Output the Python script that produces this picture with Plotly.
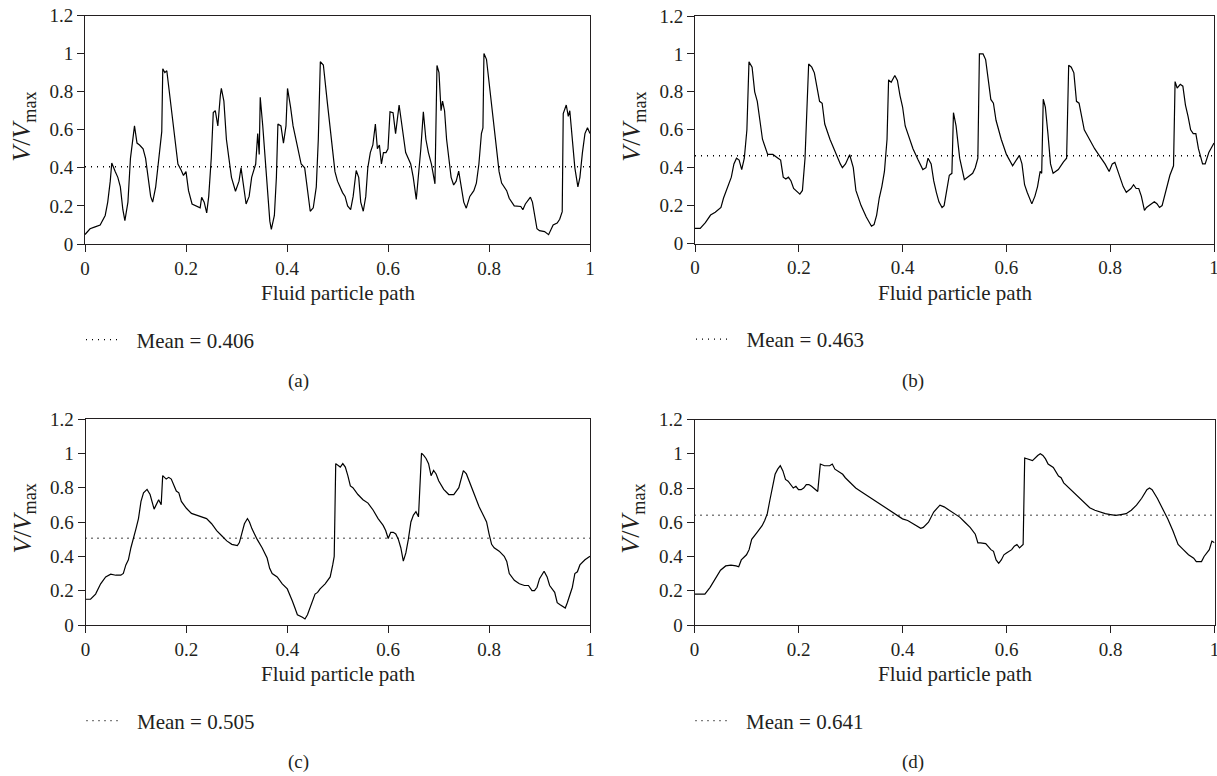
import plotly.graph_objects as go

# ---------------- data ----------------
xa = [0, 0.01, 0.02, 0.03, 0.04, 0.045, 0.05, 0.053, 0.06, 0.065, 0.07, 0.075, 0.079, 0.085, 0.09, 0.095, 0.098,
      0.103, 0.108, 0.115, 0.12, 0.125, 0.13, 0.134, 0.14, 0.145, 0.15, 0.152, 0.154, 0.158, 0.162, 0.167, 0.172,
      0.178, 0.184, 0.19, 0.195, 0.2, 0.205, 0.212, 0.22, 0.228, 0.231, 0.236, 0.241, 0.245, 0.25, 0.254, 0.258,
      0.263, 0.268, 0.27, 0.275, 0.28, 0.285, 0.29, 0.298, 0.305, 0.309, 0.315, 0.319, 0.325, 0.33, 0.338, 0.342,
      0.345, 0.347, 0.352, 0.357, 0.362, 0.366, 0.369, 0.375, 0.379, 0.382, 0.388, 0.393, 0.398, 0.401, 0.407,
      0.412, 0.42, 0.428, 0.435, 0.44, 0.446, 0.452, 0.458, 0.462, 0.466, 0.472, 0.477, 0.48, 0.485, 0.49, 0.495,
      0.5, 0.51, 0.515, 0.52, 0.526, 0.531, 0.537, 0.542, 0.546, 0.551, 0.556, 0.56, 0.565, 0.57, 0.575, 0.579,
      0.583, 0.587, 0.591, 0.596, 0.6, 0.604, 0.61, 0.615, 0.622, 0.628, 0.635, 0.645, 0.65, 0.656, 0.66, 0.665,
      0.67, 0.675, 0.68, 0.686, 0.693, 0.697, 0.701, 0.705, 0.708, 0.712, 0.716, 0.72, 0.725, 0.73, 0.735, 0.74,
      0.745, 0.75, 0.755, 0.762, 0.77, 0.775, 0.78, 0.785, 0.788, 0.79, 0.795, 0.8, 0.805, 0.81, 0.815, 0.82,
      0.825, 0.835, 0.84, 0.85, 0.863, 0.867, 0.872, 0.882, 0.886, 0.89, 0.895, 0.9, 0.91, 0.918, 0.922, 0.927,
      0.935, 0.94, 0.945, 0.947, 0.953, 0.957, 0.96, 0.965, 0.97, 0.976, 0.98, 0.985, 0.99, 0.995, 1.0]
ya = [0.05, 0.08, 0.09, 0.10, 0.15, 0.22, 0.33, 0.425, 0.38, 0.35, 0.30, 0.18, 0.123, 0.22, 0.45, 0.58, 0.62,
      0.53, 0.52, 0.50, 0.45, 0.35, 0.25, 0.22, 0.30, 0.42, 0.55, 0.59, 0.92, 0.90, 0.91, 0.80, 0.67,
      0.55, 0.42, 0.39, 0.36, 0.38, 0.28, 0.21, 0.20, 0.19, 0.245, 0.22, 0.163, 0.25, 0.45, 0.69, 0.70,
      0.62, 0.78, 0.817, 0.75, 0.55, 0.45, 0.35, 0.277, 0.33, 0.40, 0.30, 0.21, 0.25, 0.35, 0.42, 0.58,
      0.47, 0.77, 0.62, 0.45, 0.25, 0.12, 0.077, 0.15, 0.35, 0.63, 0.62, 0.53, 0.62, 0.817, 0.72,
      0.62, 0.52, 0.42, 0.40, 0.30, 0.172, 0.19, 0.30, 0.55, 0.957, 0.94, 0.80, 0.74, 0.62, 0.48, 0.38,
      0.33, 0.27, 0.25, 0.20, 0.18, 0.25, 0.386, 0.35, 0.22, 0.172, 0.25, 0.40, 0.48, 0.52, 0.63, 0.50,
      0.52, 0.42, 0.48, 0.48, 0.50, 0.694, 0.69, 0.58, 0.73, 0.60, 0.48, 0.42, 0.35, 0.234, 0.35, 0.50,
      0.694, 0.55, 0.48, 0.42, 0.316, 0.938, 0.90, 0.70, 0.75, 0.70, 0.55, 0.45, 0.35, 0.31, 0.33, 0.383,
      0.30, 0.22, 0.188, 0.25, 0.28, 0.32, 0.42, 0.58, 0.61, 1.00, 0.97, 0.85, 0.72, 0.60, 0.47, 0.38,
      0.32, 0.28, 0.24, 0.20, 0.197, 0.18, 0.21, 0.246, 0.22, 0.15, 0.08, 0.07, 0.065, 0.049, 0.07, 0.10,
      0.11, 0.13, 0.17, 0.685, 0.73, 0.67, 0.70, 0.55, 0.40, 0.30, 0.35, 0.48, 0.58, 0.61, 0.58]

xb = [0, 0.01, 0.02, 0.03, 0.039, 0.05, 0.055, 0.06, 0.07, 0.075, 0.08, 0.085, 0.09, 0.095, 0.1, 0.104, 0.11,
      0.115, 0.12, 0.125, 0.13, 0.14, 0.15, 0.16, 0.165, 0.17, 0.175, 0.18, 0.185, 0.19, 0.202, 0.207, 0.212,
      0.219, 0.225, 0.23, 0.24, 0.245, 0.25, 0.26, 0.27, 0.28, 0.284, 0.29, 0.298, 0.305, 0.31, 0.32, 0.33, 0.34,
      0.345, 0.35, 0.355, 0.36, 0.365, 0.37, 0.373, 0.378, 0.385, 0.39, 0.395, 0.4, 0.405, 0.41, 0.42, 0.43,
      0.439, 0.445, 0.449, 0.455, 0.46, 0.465, 0.47, 0.476, 0.48, 0.485, 0.49, 0.495, 0.498, 0.503, 0.51, 0.519,
      0.525, 0.53, 0.535, 0.54, 0.545, 0.548, 0.555, 0.56, 0.565, 0.57, 0.575, 0.58, 0.59, 0.6, 0.612, 0.62,
      0.625, 0.63, 0.635, 0.64, 0.645, 0.649, 0.655, 0.66, 0.665, 0.668, 0.671, 0.675, 0.68, 0.685, 0.69, 0.7,
      0.71, 0.716, 0.72, 0.725, 0.73, 0.735, 0.74, 0.745, 0.75, 0.76, 0.77, 0.78, 0.79, 0.798, 0.804, 0.809,
      0.815, 0.82, 0.825, 0.831, 0.84, 0.845, 0.85, 0.855, 0.86, 0.866, 0.87, 0.875, 0.885, 0.89, 0.895, 0.9,
      0.905, 0.91, 0.915, 0.922, 0.925, 0.929, 0.935, 0.94, 0.945, 0.95, 0.955, 0.96, 0.965, 0.97, 0.978, 0.983,
      0.99, 1.0]
yb = [0.08, 0.08, 0.11, 0.15, 0.165, 0.19, 0.24, 0.28, 0.35, 0.42, 0.45, 0.44, 0.39, 0.45, 0.60, 0.958, 0.93,
      0.80, 0.75, 0.65, 0.55, 0.47, 0.47, 0.45, 0.44, 0.35, 0.34, 0.35, 0.33, 0.29, 0.26, 0.28, 0.45,
      0.947, 0.93, 0.90, 0.75, 0.74, 0.63, 0.55, 0.48, 0.42, 0.40, 0.42, 0.468, 0.40, 0.28, 0.20, 0.14, 0.091,
      0.10, 0.15, 0.24, 0.30, 0.38, 0.55, 0.863, 0.85, 0.886, 0.86, 0.78, 0.72, 0.62, 0.58, 0.50, 0.44,
      0.39, 0.40, 0.45, 0.42, 0.33, 0.27, 0.22, 0.19, 0.20, 0.28, 0.36, 0.37, 0.69, 0.62, 0.45, 0.337,
      0.35, 0.36, 0.37, 0.40, 0.45, 1.00, 1.00, 0.97, 0.85, 0.76, 0.74, 0.65, 0.55, 0.47, 0.41, 0.44,
      0.465, 0.42, 0.31, 0.27, 0.24, 0.209, 0.25, 0.30, 0.38, 0.37, 0.761, 0.72, 0.58, 0.42, 0.37, 0.39,
      0.43, 0.45, 0.94, 0.93, 0.90, 0.75, 0.74, 0.66, 0.60, 0.55, 0.50, 0.46, 0.42, 0.38, 0.42, 0.428,
      0.38, 0.33, 0.30, 0.27, 0.29, 0.31, 0.29, 0.29, 0.25, 0.175, 0.19, 0.20, 0.22, 0.21, 0.19, 0.20,
      0.25, 0.30, 0.36, 0.41, 0.854, 0.82, 0.84, 0.83, 0.73, 0.67, 0.60, 0.58, 0.58, 0.50, 0.42, 0.42,
      0.48, 0.53]

xc = [0, 0.01, 0.02, 0.03, 0.04, 0.05, 0.06, 0.07, 0.075, 0.08, 0.085, 0.09, 0.1, 0.105, 0.11, 0.115, 0.122,
      0.128, 0.136, 0.14, 0.145, 0.15, 0.153, 0.16, 0.165, 0.17, 0.175, 0.18, 0.185, 0.19, 0.2, 0.21, 0.22, 0.23,
      0.24, 0.25, 0.26, 0.27, 0.28, 0.29, 0.301, 0.305, 0.31, 0.315, 0.321, 0.325, 0.33, 0.34, 0.35, 0.36, 0.365,
      0.37, 0.38, 0.39, 0.4, 0.405, 0.41, 0.415, 0.42, 0.43, 0.435, 0.44, 0.445, 0.45, 0.455, 0.46, 0.465, 0.475,
      0.485, 0.49, 0.493, 0.496, 0.5, 0.505, 0.51, 0.515, 0.52, 0.525, 0.53, 0.54, 0.55, 0.56, 0.57, 0.58, 0.59,
      0.595, 0.6, 0.605, 0.61, 0.615, 0.62, 0.625, 0.63, 0.635, 0.64, 0.645, 0.65, 0.655, 0.66, 0.666, 0.67,
      0.675, 0.68, 0.685, 0.69, 0.695, 0.7, 0.71, 0.72, 0.73, 0.74, 0.749, 0.755, 0.76, 0.77, 0.78, 0.79, 0.795,
      0.8, 0.805, 0.81, 0.82, 0.83, 0.835, 0.84, 0.85, 0.86, 0.87, 0.878, 0.885, 0.89, 0.895, 0.9, 0.909, 0.915,
      0.92, 0.93, 0.935, 0.94, 0.951, 0.955, 0.96, 0.965, 0.97, 0.975, 0.98, 0.99, 1.0]
yc = [0.15, 0.15, 0.18, 0.24, 0.28, 0.296, 0.29, 0.29, 0.30, 0.35, 0.38, 0.45, 0.56, 0.62, 0.72, 0.77, 0.79,
      0.76, 0.675, 0.70, 0.73, 0.70, 0.87, 0.85, 0.86, 0.85, 0.81, 0.78, 0.77, 0.72, 0.68, 0.65, 0.64, 0.63,
      0.62, 0.59, 0.55, 0.52, 0.49, 0.47, 0.463, 0.48, 0.54, 0.59, 0.62, 0.60, 0.56, 0.50, 0.45, 0.39, 0.33,
      0.30, 0.28, 0.24, 0.21, 0.18, 0.14, 0.10, 0.06, 0.045, 0.035, 0.06, 0.10, 0.14, 0.18, 0.19, 0.21, 0.24,
      0.28, 0.35, 0.40, 0.94, 0.93, 0.92, 0.94, 0.92, 0.87, 0.81, 0.80, 0.76, 0.73, 0.71, 0.67, 0.62, 0.58,
      0.55, 0.504, 0.54, 0.54, 0.53, 0.50, 0.45, 0.372, 0.42, 0.50, 0.60, 0.64, 0.66, 0.63, 1.00, 0.99,
      0.97, 0.94, 0.87, 0.90, 0.88, 0.84, 0.79, 0.76, 0.76, 0.80, 0.899, 0.88, 0.84, 0.76, 0.69, 0.63, 0.60,
      0.53, 0.47, 0.45, 0.43, 0.40, 0.37, 0.30, 0.26, 0.24, 0.23, 0.23, 0.20, 0.20, 0.22, 0.27, 0.313, 0.28,
      0.23, 0.19, 0.13, 0.12, 0.099, 0.13, 0.17, 0.22, 0.30, 0.31, 0.35, 0.38, 0.40]

xd = [0, 0.02, 0.03, 0.04, 0.05, 0.06, 0.07, 0.08, 0.085, 0.09, 0.1, 0.105, 0.11, 0.12, 0.13, 0.135, 0.14, 0.145,
      0.15, 0.155, 0.16, 0.165, 0.17, 0.175, 0.18, 0.185, 0.19, 0.195, 0.2, 0.205, 0.21, 0.215, 0.22, 0.225, 0.237,
      0.242, 0.25, 0.26, 0.265, 0.27, 0.28, 0.285, 0.29, 0.3, 0.31, 0.32, 0.33, 0.34, 0.35, 0.36, 0.37, 0.38, 0.39,
      0.4, 0.41, 0.42, 0.43, 0.435, 0.44, 0.45, 0.46, 0.472, 0.48, 0.49, 0.5, 0.51, 0.52, 0.53, 0.54, 0.545, 0.55,
      0.56, 0.57, 0.575, 0.58, 0.585, 0.59, 0.595, 0.6, 0.61, 0.615, 0.62, 0.625, 0.632, 0.635, 0.64, 0.65, 0.66,
      0.665, 0.67, 0.675, 0.68, 0.69, 0.7, 0.705, 0.71, 0.72, 0.73, 0.74, 0.75, 0.76, 0.77, 0.78, 0.79, 0.8, 0.81,
      0.82, 0.83, 0.84, 0.85, 0.86, 0.87, 0.875, 0.88, 0.89, 0.9, 0.91, 0.92, 0.93, 0.94, 0.95, 0.96, 0.965, 0.97,
      0.975, 0.98, 0.99, 0.995, 1.0]
yd = [0.18, 0.18, 0.22, 0.27, 0.32, 0.345, 0.35, 0.345, 0.34, 0.38, 0.41, 0.44, 0.50, 0.54, 0.58, 0.61, 0.65, 0.73,
      0.80, 0.88, 0.91, 0.93, 0.90, 0.85, 0.84, 0.82, 0.80, 0.81, 0.79, 0.79, 0.80, 0.82, 0.82, 0.81, 0.78,
      0.94, 0.93, 0.93, 0.94, 0.91, 0.89, 0.88, 0.86, 0.83, 0.80, 0.78, 0.76, 0.74, 0.72, 0.70, 0.68, 0.66, 0.64,
      0.62, 0.61, 0.59, 0.57, 0.565, 0.57, 0.60, 0.66, 0.70, 0.69, 0.67, 0.65, 0.63, 0.60, 0.57, 0.53, 0.48, 0.48,
      0.475, 0.44, 0.43, 0.38, 0.36, 0.38, 0.41, 0.42, 0.44, 0.46, 0.47, 0.45, 0.47, 0.975, 0.97, 0.96, 0.99,
      1.00, 0.99, 0.97, 0.94, 0.92, 0.87, 0.86, 0.83, 0.80, 0.77, 0.74, 0.71, 0.685, 0.67, 0.66, 0.65, 0.645, 0.64,
      0.645, 0.65, 0.67, 0.70, 0.74, 0.79, 0.80, 0.79, 0.74, 0.68, 0.62, 0.55, 0.47, 0.44, 0.41, 0.39, 0.37, 0.37,
      0.37, 0.40, 0.44, 0.49, 0.48]

means = [0.406, 0.463, 0.505, 0.641]
captions = ["(a)", "(b)", "(c)", "(d)"]
tick_x = [0, 0.2, 0.4, 0.6, 0.8, 1]
tick_y = [0, 0.2, 0.4, 0.6, 0.8, 1, 1.2]

# ---------------- layout geometry ----------------
W, H = 1217, 776
FONT = "Liberation Serif, Times New Roman, serif"
INK = "#231f20"

# plot boxes in pixels: (left, right, top, bottom)
boxes = [(85, 590, 15.5, 244), (695, 1214, 16, 243.5), (85.5, 590, 419, 625), (694.5, 1214.5, 419.5, 625)]
cap_x = [298, 913, 298, 913]


def px_x(p):
    return p / W


def px_y(p):
    return 1 - p / H


fig = go.Figure()
series = [(xa, ya), (xb, yb), (xc, yc), (xd, yd)]
annotations = []
for i, ((xs, ys), m, cap, box) in enumerate(zip(series, means, captions, boxes)):
    sfx = "" if i == 0 else str(i + 1)
    l, r, t, b = box
    fig.add_trace(go.Scatter(x=xs, y=ys, mode="lines", line=dict(color="black", width=1.2),
                             xaxis="x" + sfx, yaxis="y" + sfx, showlegend=False, hoverinfo="skip"))
    fig.add_trace(go.Scatter(x=[0, 1], y=[m, m], mode="lines",
                             line=dict(color="black", width=1.4, dash="1px,5px"),
                             xaxis="x" + sfx, yaxis="y" + sfx, name=f"\u2002Mean = {m:.3f}",
                             showlegend=True, legend="legend" + sfx, hoverinfo="skip"))
    axis_common = dict(showline=True, linecolor=INK, linewidth=1, mirror=True, ticks="outside",
                       ticklen=7, tickwidth=1, tickcolor=INK, showgrid=False, zeroline=False,
                       automargin=False, ticklabeloverflow="allow",
                       tickfont=dict(family=FONT, size=19, color=INK))
    fig.update_layout(**{
        "xaxis" + sfx: dict(domain=[px_x(l), px_x(r)], range=[0, 1], tickvals=tick_x,
                            anchor="y" + sfx, **axis_common),
        "yaxis" + sfx: dict(domain=[px_y(b), px_y(t)], range=[0, 1.2], tickvals=tick_y,
                            anchor="x" + sfx, **axis_common),
        "legend" + sfx: dict(x=px_x(l - 4), y=px_y(b + 96), xanchor="left", yanchor="middle",
                             bgcolor="rgba(0,0,0,0)", borderwidth=0, itemwidth=35,
                             font=dict(family=FONT, size=21, color=INK)),
    })
    cx = (l + r) / 2
    annotations.append(dict(text="Fluid particle path", x=px_x(cx), y=px_y(b + 49), xref="paper",
                            yref="paper", showarrow=False, xanchor="center", yanchor="middle",
                            font=dict(family=FONT, size=21, color=INK)))
    annotations.append(dict(text="<i>V</i>/<i>V</i><sub>max</sub>", x=px_x(l - 62), y=px_y((t + b) / 2 - 3),
                            xref="paper", yref="paper", showarrow=False, textangle=-90,
                            xanchor="center", yanchor="middle",
                            font=dict(family=FONT, size=26, color=INK)))
    annotations.append(dict(text=cap, x=px_x(cap_x[i]), y=px_y(b + 137),
                            xref="paper", yref="paper", showarrow=False, xanchor="center",
                            yanchor="middle", font=dict(family=FONT, size=19, color=INK)))

fig.update_layout(width=W, height=H, margin=dict(l=0, r=0, t=0, b=0), plot_bgcolor="white",
                  paper_bgcolor="white", annotations=annotations)
fig.write_html("out.html", config={"displayModeBar": False},
               post_script="document.body.style.margin='0';document.body.style.overflow='hidden';")
